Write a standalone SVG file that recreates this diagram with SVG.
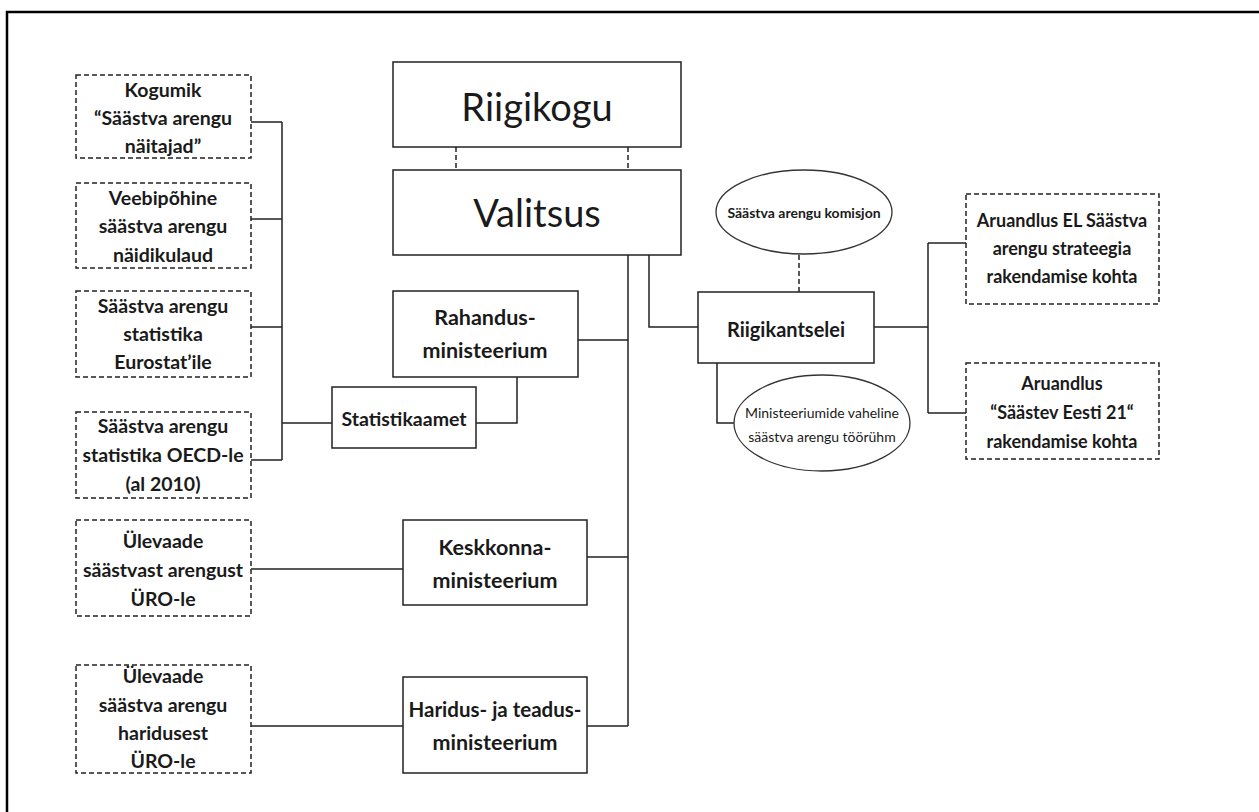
<svg xmlns="http://www.w3.org/2000/svg" width="1259" height="812" viewBox="0 0 1259 812">
<style>
.frame{fill:none;stroke:#000;stroke-width:2.5}
.box{fill:#fff;stroke:#222;stroke-width:1.5}
.dbox{fill:#fff;stroke:#222;stroke-width:1.5;stroke-dasharray:5,3}
.oval{fill:#fff;stroke:#333;stroke-width:1.3}
.ln{fill:none;stroke:#222;stroke-width:1.5}
.dln{fill:none;stroke:#222;stroke-width:1.5;stroke-dasharray:5,3}
text{font-family:Lato,"Open Sans","Liberation Sans",sans-serif;fill:#1a1a1a;text-anchor:middle}
.t{font-size:19.5px;font-weight:bold}
.m{font-size:21.5px;font-weight:bold}
.r{font-size:18px;font-weight:bold}
.big{font-size:38px;font-weight:normal}
.s{font-size:14px;font-weight:bold}
.sr{font-size:14px;font-weight:normal}
</style>
<rect class="frame" x="7" y="12" width="1400" height="900"/>
<g id="connectors">
<path class="ln" d="M251,122 H282 M251,219 H282 M251,327 H282 M251,460 H282 M282,122 V460 M282,423 H332"/>
<path class="ln" d="M517,377 V423 H476"/>
<path class="ln" d="M628,255 V726 M578,340 H628 M587,557 H628 M587,726 H628"/>
<path class="ln" d="M251,569 H403 M251,726 H403"/>
<path class="ln" d="M649,255 V327 H698"/>
<path class="dln" d="M456,147 V170 M628,147 V170"/>
<path class="dln" d="M799,255 V292"/>
<path class="ln" d="M717,363 V423 H734"/>
<path class="ln" d="M874,327 H928 M928,243 V413 M928,243 H966 M928,413 H966"/>
</g>
<g id="riigikogu"><rect class="box" x="393" y="62" width="288" height="85"/><text class="big" x="537" y="121">Riigikogu</text></g>
<g id="valitsus"><rect class="box" x="393" y="170" width="288" height="85"/><text class="big" x="537" y="227">Valitsus</text></g>
<g id="l1"><rect class="dbox" x="76" y="75" width="175" height="83"/><text class="t" x="163" y="97">Kogumik</text><text class="t" x="163" y="125">“Säästva arengu</text><text class="t" x="163" y="153">näitajad”</text></g>
<g id="l2"><rect class="dbox" x="76" y="183" width="175" height="85"/><text class="t" x="163" y="205">Veebipõhine</text><text class="t" x="163" y="233">säästva arengu</text><text class="t" x="163" y="262">näidikulaud</text></g>
<g id="l3"><rect class="dbox" x="76" y="291" width="175" height="86"/><text class="t" x="163" y="313">Säästva arengu</text><text class="t" x="163" y="341">statistika</text><text class="t" x="163" y="369">Eurostat’ile</text></g>
<g id="l4"><rect class="dbox" x="76" y="412" width="175" height="86"/><text class="t" x="163" y="433">Säästva arengu</text><text class="t" x="163" y="462">statistika OECD-le</text><text class="t" x="163" y="491">(al 2010)</text></g>
<g id="l5"><rect class="dbox" x="76" y="520" width="175" height="96"/><text class="t" x="163" y="548">Ülevaade</text><text class="t" x="163" y="577">säästvast arengust</text><text class="t" x="163" y="606">ÜRO-le</text></g>
<g id="l6"><rect class="dbox" x="76" y="665" width="175" height="108"/><text class="t" x="163" y="683">Ülevaade</text><text class="t" x="163" y="712">säästva arengu</text><text class="t" x="163" y="740">haridusest</text><text class="t" x="163" y="768">ÜRO-le</text></g>
<g id="rahandus"><rect class="box" x="393" y="291" width="185" height="86"/><text class="m" x="485" y="325">Rahandus-</text><text class="m" x="485" y="358">ministeerium</text></g>
<g id="statistikaamet"><rect class="box" x="332" y="387" width="144" height="61"/><text class="t" x="404" y="426">Statistikaamet</text></g>
<g id="keskkonna"><rect class="box" x="403" y="520" width="184" height="85"/><text class="m" x="495" y="555">Keskkonna-</text><text class="m" x="495" y="588">ministeerium</text></g>
<g id="haridus"><rect class="box" x="403" y="677" width="184" height="96"/><text class="m" x="495" y="717" style="font-size:20.5px">Haridus- ja teadus-</text><text class="m" x="495" y="750">ministeerium</text></g>
<g id="riigikantselei"><rect class="box" x="698" y="292" width="176" height="71"/><text class="t" x="786" y="337" style="font-size:20px">Riigikantselei</text></g>
<g id="komisjon"><ellipse class="oval" cx="804" cy="212" rx="88" ry="42"/><text class="s" x="804" y="218">Säästva arengu komisjon</text></g>
<g id="tooruhm"><ellipse class="oval" cx="822" cy="423" rx="88" ry="48"/><text class="sr" x="822" y="418">Ministeeriumide vaheline</text><text class="sr" x="822" y="442">säästva arengu töörühm</text></g>
<g id="r1"><rect class="dbox" x="966" y="194" width="193" height="110"/><text class="r" x="1062" y="227">Aruandlus EL Säästva</text><text class="r" x="1062" y="255">arengu strateegia</text><text class="r" x="1062" y="283">rakendamise kohta</text></g>
<g id="r2"><rect class="dbox" x="966" y="363" width="193" height="96"/><text class="r" x="1062" y="390">Aruandlus</text><text class="r" x="1062" y="419">“Säästev Eesti 21“</text><text class="r" x="1062" y="448">rakendamise kohta</text></g>
</svg>
